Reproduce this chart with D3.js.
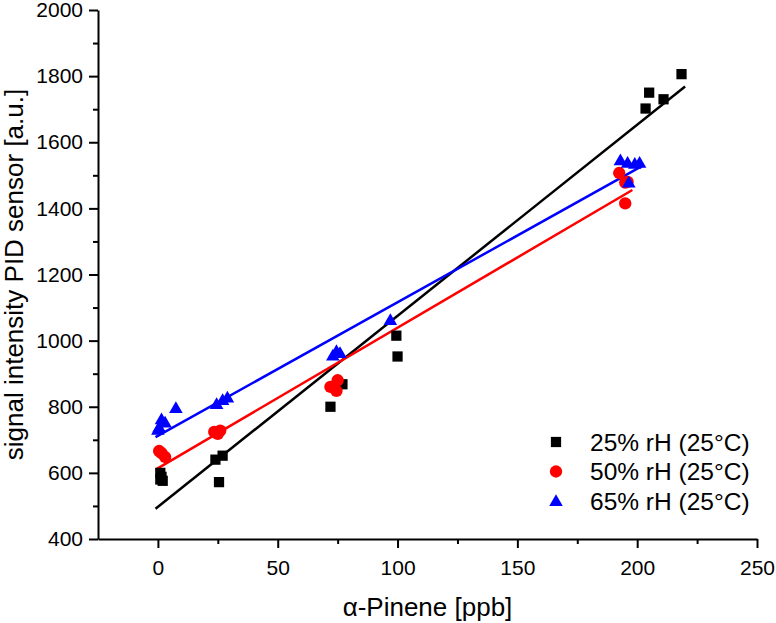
<!DOCTYPE html>
<html>
<head>
<meta charset="utf-8">
<script src="https://cdn.jsdelivr.net/npm/d3@7"></script>
<style>
    body { margin: 0; background: #fff; }
    text { font-family: "Liberation Sans", Arial, sans-serif; fill: #000; }
</style>
</head>
<body>
<div id="chart"></div>
<script>

// signal of the PID sensor vs alpha-pinene concentration, 3 humidities

var series = ["25% rH (25°C)", "50% rH (25°C)", "65% rH (25°C)"];
var colors = ["#000000", "#ff0000", "#0000ff"];
var shapes = ["square", "circle", "triangle"];

// [ppb, signal]
var rh25 = [[1, 600], [1.5, 588], [1, 580], [2, 576],
    [24, 640], [27, 652], [25.5, 572],
    [72, 800], [77, 868],
    [99.5, 1015], [100, 952],
    [203.5, 1702], [205, 1750], [211, 1730], [218.5, 1806]];

var rh50 = [[0.5, 666], [1.5, 660], [3, 648],
    [23.5, 724], [25, 718], [26, 728],
    [72, 860], [74.5, 848], [75, 880],
    [192.5, 1507], [195, 1478], [196, 1480], [195, 1415]];

var rh65 = [[0.5, 738], [1.5, 762], [3, 752], [0, 730], [7.5, 796],
    [24.5, 808], [27, 820], [29, 828],
    [73, 955], [74.5, 968], [76, 962],
    [97, 1062],
    [193, 1545], [196, 1538], [199, 1535], [201, 1538], [196.5, 1478]];

// linear fits: intercept, slope, x start, x end
var fitIntercept = [497, 614, 712];
var fitSlope = [5.78, 4.25, 4.04];
var fitStart = [-1, -1, -1];
var fitEnd = [220, 198, 202.5];

var xMajor = [0, 50, 100, 150, 200, 250];
var xMinor = [25, 75, 125, 175, 225];
var yMajor = [400, 600, 800, 1000, 1200, 1400, 1600, 1800, 2000];
var yMinor = [500, 700, 900, 1100, 1300, 1500, 1700, 1900];

var width = 776;
var height = 623;
const margins = {top: 10, bottom: 84, left: 98, right: 19};
const FONT = '"Liberation Sans", Arial, sans-serif';

var svg = d3.select('#chart')
    .append('svg')
    .attr('width', width)
    .attr('height', height);

var x_scale = d3.scaleLinear()
    .domain([-25, 250])
    .range([margins.left, width - margins.right]);

var y_scale = d3.scaleLinear()
    .domain([400, 2000])
    .range([height - margins.bottom, margins.top]);

// minor ticks first, then the major axis on top
svg.append('g')
    .attr('transform', 'translate(0,' + y_scale(400) + ')')
    .call(d3.axisBottom(x_scale).tickValues(xMinor).tickSize(5).tickSizeOuter(0).tickFormat(''))
    .call(g => g.select('.domain').remove())
    .selectAll('line').attr('stroke', '#000').attr('stroke-width', 2);

svg.append('g')
    .attr('transform', 'translate(' + x_scale(-25) + ',0)')
    .call(d3.axisLeft(y_scale).tickValues(yMinor).tickSize(5).tickSizeOuter(0).tickFormat(''))
    .call(g => g.select('.domain').remove())
    .selectAll('line').attr('stroke', '#000').attr('stroke-width', 2);

var xAxis = svg.append('g')
    .attr('transform', 'translate(0,' + y_scale(400) + ')')
    .call(d3.axisBottom(x_scale).tickValues(xMajor).tickFormat(d3.format('d'))
        .tickSize(9).tickSizeOuter(0).tickPadding(12));

var yAxis = svg.append('g')
    .attr('transform', 'translate(' + x_scale(-25) + ',0)')
    .call(d3.axisLeft(y_scale).tickValues(yMajor).tickFormat(d3.format('d'))
        .tickSize(9).tickSizeOuter(0).tickPadding(6));

[xAxis, yAxis].forEach(function (ax) {
    ax.attr('font-family', FONT);
    ax.select('.domain').attr('stroke', '#000').attr('stroke-width', 2);
    ax.selectAll('line').attr('stroke', '#000').attr('stroke-width', 2);
    ax.selectAll('text')
        .attr('font-size', '21px')
        .attr('font-family', FONT)
        .attr('fill', '#000');
});

// axis titles
svg.append('text')
    .attr('x', (x_scale(-25) + x_scale(250)) / 2)
    .attr('y', 616)
    .attr('text-anchor', 'middle')
    .attr('font-family', FONT)
    .attr('font-size', '26px')
    .text('α-Pinene [ppb]');

svg.append('text')
    .attr('transform', 'translate(23,' + (y_scale(400) + y_scale(2000)) / 2 + ') rotate(-90)')
    .attr('text-anchor', 'middle')
    .attr('font-family', FONT)
    .attr('font-size', '26px')
    .text('signal intensity PID sensor [a.u.]');

// fit lines
var fits = series.map(function (s, i) {
    return {
        i: i,
        x1: fitStart[i], y1: fitIntercept[i] + fitSlope[i] * fitStart[i],
        x2: fitEnd[i], y2: fitIntercept[i] + fitSlope[i] * fitEnd[i]
    };
});

svg.selectAll('.fit')
    .data(fits)
    .enter()
    .append('line')
    .attr('class', 'fit')
    .attr('x1', d => x_scale(d.x1))
    .attr('y1', d => y_scale(d.y1))
    .attr('x2', d => x_scale(d.x2))
    .attr('y2', d => y_scale(d.y2))
    .attr('stroke', d => colors[d.i])
    .attr('stroke-width', 2.5);

var symbolSize = {square: 105, circle: 120, triangle: 80};
function symbolPath(shape) {
    var t = shape === 'square' ? d3.symbolSquare : (shape === 'circle' ? d3.symbolCircle : d3.symbolTriangle);
    return d3.symbol().type(t).size(symbolSize[shape])();
}

// scatter points
var allData = [rh25, rh50, rh65];
allData.forEach(function (pts, i) {
    svg.append('g')
        .selectAll('path')
        .data(pts)
        .enter()
        .append('path')
        .attr('d', symbolPath(shapes[i]))
        .attr('transform', function (d) {
            var dy = shapes[i] === 'triangle' ? 1 : 0;
            return 'translate(' + x_scale(d[0]) + ',' + (y_scale(d[1]) + dy) + ')';
        })
        .attr('fill', colors[i]);
});

// legend
var legend = svg.selectAll('.legend')
    .data(series)
    .enter().append('g')
    .attr('class', 'legend')
    .attr('transform', function (d, i) { return 'translate(556,' + (442 + i * 29.5) + ')'; });

legend.append('path')
    .attr('d', function (d, i) { return symbolPath(shapes[i]); })
    .attr('transform', function (d, i) { return shapes[i] === 'triangle' ? 'translate(0,1)' : null; })
    .attr('fill', function (d, i) { return colors[i]; });

legend.append('text')
    .attr('x', 34)
    .attr('dy', '0.36em')
    .attr('font-family', FONT)
    .attr('font-size', '24.5px')
    .text(d => d);

</script>
</body>
</html>
